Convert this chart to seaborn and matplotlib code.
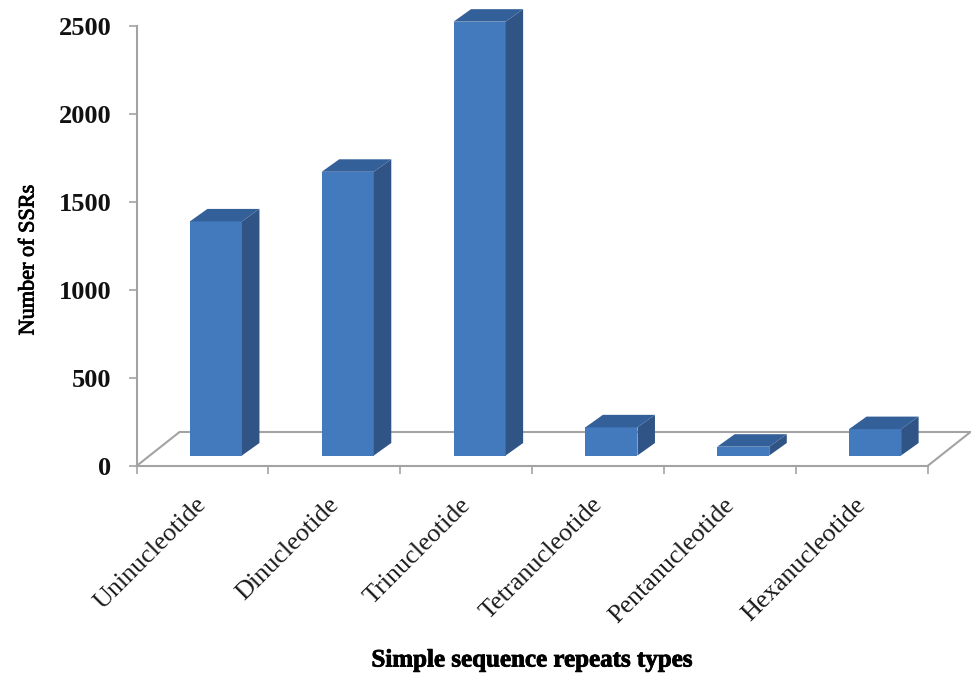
import matplotlib
matplotlib.use("Agg")
import matplotlib.pyplot as plt
import matplotlib.patheffects as pe
import matplotlib.transforms as mtrans
import numpy as np
import pandas as pd
import seaborn as sns
from matplotlib.patches import Polygon

repeat_types = ["Uninucleotide", "Dinucleotide", "Trinucleotide",
                "Tetranucleotide", "Pentanucleotide", "Hexanucleotide"]
ssr_counts = [1330, 1612, 2465, 160, 50, 150]
y_ticks = [0, 500, 1000, 1500, 2000, 2500]

W, H = 971, 673
FRONT = "#437ABD"
SIDE = "#2F5485"
TOP = "#34609A"
GREY = "#A3A3A3"

sns.set_theme(style="white")
plt.rcParams["font.family"] = ["Liberation Serif", "DejaVu Serif"]


def px_axes(fig, left, right, top, bottom, **kw):
    return fig.add_axes([left / W, 1 - bottom / H, (right - left) / W, (bottom - top) / H], **kw)


fig = plt.figure(figsize=(W / 100, H / 100), dpi=100, facecolor="white")

# the axis frame sits at the front of the floor, the bars further back
ax = px_axes(fig, 136.5, 927.5, 26, 466, zorder=1)
ax_bars = px_axes(fig, 150, 941, 15.5, 455.5, zorder=2)

df = pd.DataFrame({"type": repeat_types, "count": ssr_counts})
sns.barplot(data=df, x="type", y="count", ax=ax_bars, color=FRONT, width=0.395,
            saturation=1, linewidth=0)
ax_bars.set_xlim(-0.5, 5.5)
ax_bars.set_ylim(0, 2500)
ax_bars.axis("off")
ax_bars.patch.set_alpha(0)

# depth of the 3D look, in data units (px / px-per-unit)
per_cat = 791 / 6
per_val = 440 / 2500
dx, dy = 17.5 / per_cat, 12.5 / per_val
for bar in ax_bars.patches[:]:
    x0, x1 = bar.get_x(), bar.get_x() + bar.get_width()
    h = bar.get_height()
    ax_bars.add_patch(Polygon([(x1, 0), (x1 + dx, dy), (x1 + dx, h + dy), (x1, h)],
                              fc=SIDE, ec="none", clip_on=False))
    ax_bars.add_patch(Polygon([(x0, h), (x0 + dx, h + dy), (x1 + dx, h + dy), (x1, h)],
                              fc=TOP, ec="none", clip_on=False))
    bar.set_clip_on(False)

ax.set_xlim(-0.5, 5.5)
ax.set_ylim(0, 2500)
ax.patch.set_alpha(0)
sns.despine(ax=ax)
for side in ["left", "bottom"]:
    ax.spines[side].set_color(GREY)
    ax.spines[side].set_linewidth(1.5)

# floor
fx, fy = 43 / per_cat, 34 / per_val
ax.plot([-0.5, -0.5 + fx, 5.5 + fx, 5.5], [0, fy, fy, 0], color=GREY, lw=1.5, clip_on=False)

ax.set_yticks(y_ticks)
ax.set_yticklabels([str(v) for v in y_ticks], fontsize=19, fontweight="bold", color="#111111")
ax.tick_params(axis="y", left=True, length=6, width=1.2, color=GREY, pad=12)

ax.set_xticks(np.arange(6))
ax.set_xticklabels(repeat_types, rotation=45, ha="right", rotation_mode="anchor",
                   fontsize=18.8, color="#1a1a1a")
ax.set_xticks(np.arange(-0.5, 6), minor=True)
ax.tick_params(axis="x", which="major", length=0, pad=20)
ax.tick_params(axis="x", which="minor", bottom=True, length=6, width=1.2, color=GREY)
nudge = mtrans.ScaledTranslation(-7 / 100, 0, fig.dpi_scale_trans)
for lab in ax.get_xticklabels():
    lab.set_transform(lab.get_transform() + nudge)

ax.set_xlabel("")
ax.set_ylabel("")
thick = [pe.withStroke(linewidth=0.6, foreground="black")]
fig.text(532 / W, 1 - 660 / H, "Simple sequence repeats types", ha="center", va="center",
         fontsize=18, fontweight="bold", color="black", path_effects=thick)
fig.text(29 / W, 1 - 260 / H, "Number of SSRs", rotation=90, ha="center", va="center",
         fontsize=16, color="black", path_effects=thick)

fig.savefig("out.png", dpi=100)
